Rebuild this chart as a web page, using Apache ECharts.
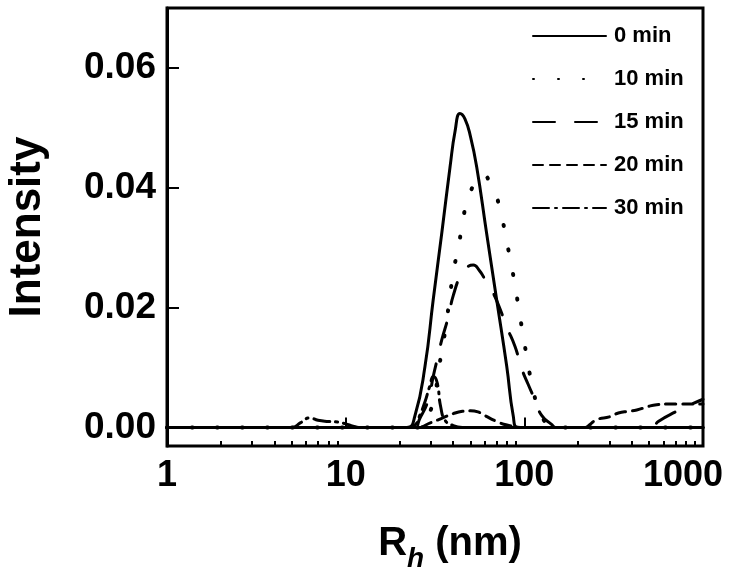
<!DOCTYPE html>
<html><head><meta charset="utf-8">
<script src="https://cdn.jsdelivr.net/npm/echarts@6/dist/echarts.min.js"></script>
<style>html,body{margin:0;padding:0;background:#fff}#c{width:750px;height:573px}</style>
</head><body><div id="c"></div>
<script>
const seriesNames = ['0 min', '10 min', '15 min', '20 min', '30 min'];
// [Rh (nm), intensity]
const data0min = [[1,0],[22,0],[24.4,0.0019],[27.8,0.0102],[30.9,0.0213],[34.5,0.0324],[38.4,0.0435],[41,0.0495],[43.6,0.0524],[46.5,0.0515],[50,0.0485],[54.1,0.0435],[61.5,0.0324],[70,0.0213],[79.7,0.0102],[86.7,0.0019],[92,0],[1000,0]];
const data10min = [[1,0],[26,0],[29,0.002],[31.6,0.0055],[33,0.0093],[36,0.016],[40,0.0258],[42.7,0.030],[44.6,0.0332],[47.6,0.0374],[54,0.0413],[59,0.0422],[64,0.041],[68.5,0.0393],[74.7,0.0352],[79.7,0.031],[85,0.0268],[89.8,0.0227],[94.6,0.0185],[99.5,0.0146],[105,0.0104],[112,0.0063],[120,0.003],[130,0.001],[140,0],[1000,0]];
const data15min = [[1,0],[24,0],[26,0.0015],[29,0.0046],[30.9,0.0085],[32.8,0.0118],[34.5,0.0146],[37.6,0.0185],[40,0.022],[44.6,0.0258],[48,0.0268],[51.8,0.0271],[56,0.0262],[60,0.0248],[65.7,0.0229],[71.5,0.0205],[79.7,0.0168],[88.7,0.0135],[96.7,0.0098],[105,0.0072],[115,0.0045],[125,0.002],[142,0.0005],[150,0],[520,0],[562,0.001],[713,0.0027],[850,0.0038],[1000,0.0047]];
const data20min = [[1,0],[25,0],[30,0.0008],[35,0.0016],[40,0.0023],[45,0.0027],[50,0.0028],[55,0.0026],[60,0.002],[70,0.001],[80,0.0004],[100,0],[220,0],[233,0.0005],[254,0.0013],[302,0.0018],[336,0.0024],[382,0.0027],[426,0.0029],[494,0.0035],[550,0.0038],[626,0.0039],[1000,0.0039]];
const data30min = [[1,0],[5,0],[5.6,0.0008],[6.3,0.0016],[7,0.0012],[8,0.001],[9,0.0009],[10,0.0006],[11,0.0002],[12,0],[22,0],[24.4,0.0004],[26,0.002],[27.8,0.0043],[29.5,0.0068],[31,0.0085],[32.5,0.0075],[34,0.0035],[36,0.0012],[40,0.0003],[45,0],[1000,0]];
const seriesData = [data0min, data10min, data15min, data20min, data30min];
const yTickValues = [0, 0.02, 0.04, 0.06];
const xMajorTicks = [10, 100];
const xMinorTicks = [2,3,4,5,6,7,8,9,20,30,40,50,60,70,80,90,200,300,400,500,600,700,800,900];

const FONT = '"Liberation Sans", Arial, sans-serif';
const dashes = ['solid', [1, 24], [22, 20], [10, 7], [16, 6, 2, 6]];
const widths = [3, 4, 3, 3, 3];

const chart = echarts.init(document.getElementById('c'), null, {renderer: 'canvas'});
chart.setOption({
  animation: false,
  backgroundColor: '#fff',
  textStyle: {fontFamily: FONT},
  grid: {left: 167, right: 47, top: 8, bottom: 127, show: true, borderColor: '#000', borderWidth: 3,
    backgroundColor: 'transparent', containLabel: false, outerBoundsMode: 'none'},
  legend: {
    orient: 'vertical', left: 527, top: 20, itemWidth: 73, itemHeight: 14, itemGap: 21,
    data: seriesNames,
    itemStyle: {color: 'transparent', borderWidth: 0, opacity: 0},
    textStyle: {fontSize: 22, fontWeight: 'bold', color: '#000', fontFamily: FONT, lineHeight: 22, padding: [0, 0, 0, 3]}
  },
  xAxis: [{
    type: 'log', logBase: 10, min: 1, max: 1000, position: 'bottom',
    axisLine: {lineStyle: {color: '#000', width: 3}},
    axisTick: {inside: true, length: 10, lineStyle: {color: '#000', width: 2}, customValues: xMajorTicks},
    axisLabel: {fontSize: 36, fontWeight: 'bold', color: '#000', margin: 12, fontFamily: FONT,
      formatter: v => (Math.round(v) === 1000 ? '{m|1000}' : String(Math.round(v))),
      rich: {m: {fontSize: 36, fontWeight: 'bold', color: '#000', fontFamily: FONT, padding: [0, 40, 0, 0]}}},
    splitLine: {show: false}, minorTick: {show: false},
    name: '{a|R}{b|h}{a| (nm)}', nameLocation: 'middle', nameGap: 69,
    nameTextStyle: {padding: [0, 0, 0, 30], rich: {
      a: {fontSize: 40, fontWeight: 'bold', color: '#000', fontFamily: FONT},
      b: {fontSize: 28, fontWeight: 'bold', fontStyle: 'italic', color: '#000', fontFamily: FONT, padding: [30, 0, 0, 0]}
    }}
  }, {
    type: 'log', logBase: 10, min: 1, max: 1000, position: 'bottom', gridIndex: 0,
    axisLine: {show: false},
    axisTick: {inside: true, length: 5, lineStyle: {color: '#000', width: 2}, customValues: xMinorTicks},
    axisLabel: {show: false}, splitLine: {show: false}
  }],
  yAxis: {
    type: 'value', min: -0.0031, max: 0.07,
    axisLine: {lineStyle: {color: '#000', width: 3}},
    axisTick: {inside: true, length: 12, lineStyle: {color: '#000', width: 2}, customValues: yTickValues},
    axisLabel: {fontSize: 37, fontWeight: 'bold', color: '#000', margin: 11, fontFamily: FONT,
      customValues: yTickValues, formatter: v => v.toFixed(2)},
    splitLine: {show: false},
    name: 'Intensity', nameLocation: 'middle', nameGap: 117,
    nameTextStyle: {fontSize: 44, fontWeight: 'bold', color: '#000', fontFamily: FONT}
  },
  series: seriesNames.map((n, i) => ({
    name: n, type: 'line', xAxisIndex: 0, data: seriesData[i],
    symbol: 'none', showSymbol: false, smooth: 0.5,
    lineStyle: {color: '#000', width: widths[i], type: dashes[i], cap: 'round'},
    itemStyle: {color: '#000'}, z: 5 - i
  }))
});
</script></body></html>
